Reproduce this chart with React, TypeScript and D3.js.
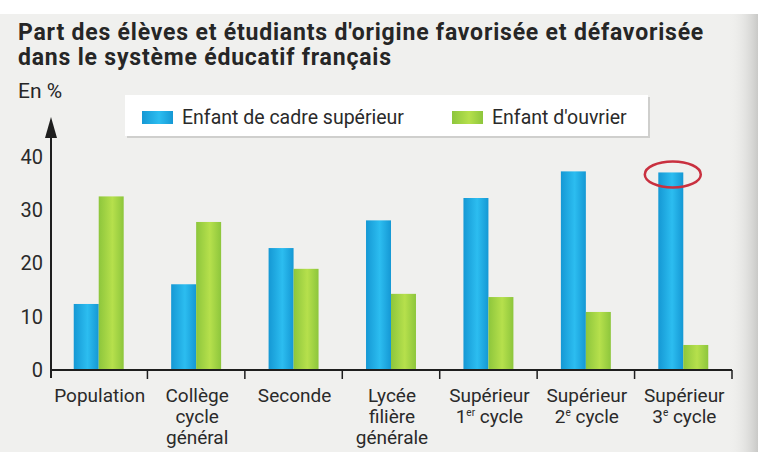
import React, { useEffect, useRef } from 'react';
import * as d3 from 'd3';

// catégories (lignes des libellés, la dernière partie éventuelle en exposant)
const categories = [
  'Population',
  'Collège cycle général',
  'Seconde',
  'Lycée filière générale',
  'Supérieur 1er cycle',
  'Supérieur 2e cycle',
  'Supérieur 3e cycle',
];
const categoryLines: { text: string; sup?: string; rest?: string }[][] = [
  [{ text: 'Population' }],
  [{ text: 'Collège' }, { text: 'cycle' }, { text: 'général' }],
  [{ text: 'Seconde' }],
  [{ text: 'Lycée' }, { text: 'filière' }, { text: 'générale' }],
  [{ text: 'Supérieur' }, { text: '1', sup: 'er', rest: ' cycle' }],
  [{ text: 'Supérieur' }, { text: '2', sup: 'e', rest: ' cycle' }],
  [{ text: 'Supérieur' }, { text: '3', sup: 'e', rest: ' cycle' }],
];

const seriesNames = ['Enfant de cadre supérieur', "Enfant d'ouvrier"];
const cadreValues = [12.4, 16.1, 22.9, 28.1, 32.3, 37.3, 37.1];
const ouvrierValues = [32.6, 27.8, 19.0, 14.3, 13.7, 10.9, 4.7];
const yTicks = [0, 10, 20, 30, 40];

const FONT = 'Roboto, "DejaVu Sans", sans-serif';

const App: React.FC = () => {
  const ref = useRef<SVGSVGElement | null>(null);

  useEffect(() => {
    if (!ref.current) return;
    const svg = d3.select<SVGSVGElement, unknown>(ref.current);
    svg.selectAll('*').remove();

    const width = 758;
    const height = 452;
    svg.attr('width', width).attr('height', height);

    const defs = svg.append('defs');
    const grad = (id: string, edge: string, mid: string) => {
      const g = defs.append('linearGradient').attr('id', id).attr('x1', '0').attr('x2', '1').attr('y1', '0').attr('y2', '0');
      g.append('stop').attr('offset', '0%').attr('stop-color', edge);
      g.append('stop').attr('offset', '55%').attr('stop-color', mid);
      g.append('stop').attr('offset', '100%').attr('stop-color', edge);
    };
    grad('blueGrad', '#1598d4', '#2cbdf0');
    grad('greenGrad', '#8dc63c', '#b6e04c');
    const shade = defs.append('linearGradient').attr('id', 'edgeShade').attr('x1', '0').attr('x2', '1');
    shade.append('stop').attr('offset', '0%').attr('stop-color', '#f0f0ee').attr('stop-opacity', 0);
    shade.append('stop').attr('offset', '100%').attr('stop-color', '#c9c9c7').attr('stop-opacity', 1);

    // fond
    svg.append('rect').attr('width', width).attr('height', height).attr('fill', '#f0f0ee');
    svg.append('rect').attr('width', width).attr('height', 14).attr('fill', '#ffffff');
    svg.append('rect').attr('x', 728).attr('y', 14).attr('width', 30).attr('height', height - 14).attr('fill', 'url(#edgeShade)');

    // titre
    svg.append('text').attr('x', 18).attr('y', 40).attr('font-family', FONT).attr('font-weight', 700)
      .attr('font-size', 23).attr('letter-spacing', 0.8).attr('fill', '#262626')
      .text("Part des élèves et étudiants d'origine favorisée et défavorisée");
    svg.append('text').attr('x', 18).attr('y', 65).attr('font-family', FONT).attr('font-weight', 700)
      .attr('font-size', 23).attr('letter-spacing', 0.8).attr('fill', '#262626')
      .text('dans le système éducatif français');
    svg.append('text').attr('x', 18).attr('y', 98).attr('font-family', FONT)
      .attr('font-size', 21).attr('fill', '#262626').text('En %');

    const x = d3.scaleBand<string>().domain(categories).range([50, 732]).paddingInner(0).paddingOuter(0);
    const xSub = d3.scaleBand<number>().domain([0, 1]).range([0, x.bandwidth()]).paddingInner(0).paddingOuter(0.95);
    const y = d3.scaleLinear().domain([0, 40]).range([370, 157]);

    // légende
    svg.append('rect').attr('x', 127).attr('y', 97).attr('width', 523).attr('height', 41)
      .attr('fill', '#cfcfcd');
    svg.append('rect').attr('x', 125).attr('y', 95).attr('width', 523).attr('height', 41)
      .attr('fill', '#ffffff');
    const legend = [
      { name: seriesNames[0], fill: 'url(#blueGrad)', x: 142 },
      { name: seriesNames[1], fill: 'url(#greenGrad)', x: 452 },
    ];
    legend.forEach(l => {
      svg.append('rect').attr('x', l.x).attr('y', 111).attr('width', 31).attr('height', 13).attr('fill', l.fill);
      svg.append('text').attr('x', l.x + 40).attr('y', 124).attr('font-family', FONT).attr('font-size', 19.5)
        .attr('fill', '#2a2a2a').text(l.name);
    });

    // barres
    const g = svg.append('g');
    const series = [cadreValues, ouvrierValues];
    const fills = ['url(#blueGrad)', 'url(#greenGrad)'];
    series.forEach((vals, si) => {
      g.selectAll(`rect.s${si}`)
        .data(vals)
        .join('rect')
        .attr('class', `s${si}`)
        .attr('x', (_d, i) => (x(categories[i]) as number) + (xSub(si) as number))
        .attr('width', xSub.bandwidth())
        .attr('y', d => y(d))
        .attr('height', d => y(0) - y(d))
        .attr('fill', fills[si]);
    });

    // axe des ordonnées
    const yAxis = svg.append('g').attr('transform', 'translate(51,0)')
      .call(d3.axisLeft(y).tickValues(yTicks).tickSize(0).tickPadding(8).tickFormat(d3.format('d')));
    yAxis.select('.domain').remove();
    yAxis.selectAll('text').attr('font-family', FONT).attr('font-size', 20).attr('fill', '#2a2a2a');
    svg.append('line').attr('x1', 51).attr('x2', 51).attr('y1', y(0) + 8).attr('y2', 136)
      .attr('stroke', '#1e1e1e').attr('stroke-width', 2);
    svg.append('path').attr('d', 'M51,117 L45,138 L57,138 Z').attr('fill', '#1e1e1e');

    // axe des abscisses
    svg.append('line').attr('x1', 50).attr('x2', 732).attr('y1', y(0)).attr('y2', y(0))
      .attr('stroke', '#1e1e1e').attr('stroke-width', 2);
    const bounds = categories.map(c => x(c) as number).concat([732]);
    svg.selectAll('line.tick').data(bounds.slice(1)).join('line')
      .attr('class', 'tick')
      .attr('x1', d => d).attr('x2', d => d).attr('y1', y(0)).attr('y2', y(0) + 9)
      .attr('stroke', '#1e1e1e').attr('stroke-width', 1.5);

    categories.forEach((c, i) => {
      const cx = (x(c) as number) + x.bandwidth() / 2 + 1;
      categoryLines[i].forEach((ln, li) => {
        const t = svg.append('text').attr('x', cx).attr('y', 402 + li * 21).attr('text-anchor', 'middle')
          .attr('font-family', FONT).attr('font-size', 19).attr('fill', '#2a2a2a');
        t.append('tspan').text(ln.text);
        if (ln.sup) {
          t.append('tspan').attr('font-size', 10).attr('dy', -7).text(ln.sup);
          t.append('tspan').attr('dy', 7).text(ln.rest || '');
        }
      });
    });

    // ellipse rouge autour du dernier sommet
    const last = categories.length - 1;
    const ex = (x(categories[last]) as number) + (xSub(0) as number) + xSub.bandwidth() / 2;
    svg.append('ellipse').attr('cx', ex + 2).attr('cy', y(cadreValues[last]) + 2).attr('rx', 28).attr('ry', 13)
      .attr('fill', 'none').attr('stroke', '#c9303f').attr('stroke-width', 2.5);
  }, []);

  return (
    <div style={{ position: 'absolute', left: 0, top: 0 }}>
      <svg ref={ref} />
    </div>
  );
};

export default App;
